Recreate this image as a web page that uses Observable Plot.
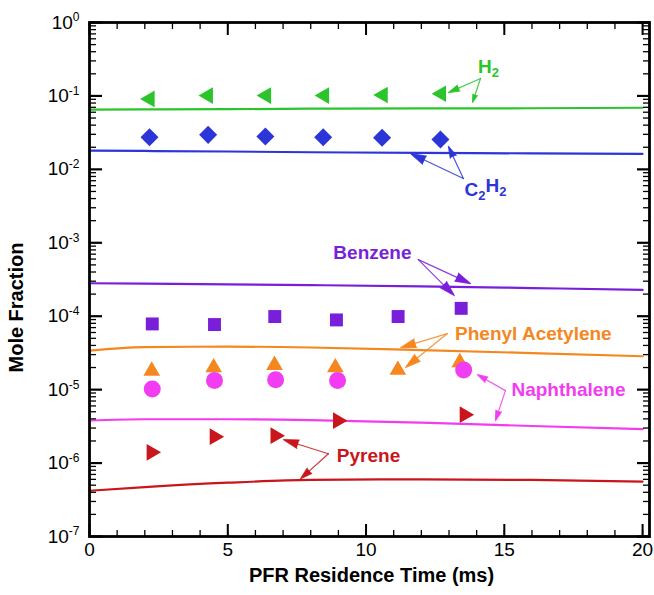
<!DOCTYPE html>
<html>
<head>
<meta charset="utf-8">
<script src="https://cdn.jsdelivr.net/npm/d3@7"></script>
<script src="https://cdn.jsdelivr.net/npm/@observablehq/plot@0.6"></script>
<style>
  body { margin: 0; background: #fff; }
  #chart { width: 654px; height: 595px; }
</style>
</head>
<body>
<div id="chart"></div>
<script>
// ---- Experimental data (symbols) ----
const h2Time   = [2.18, 4.29, 6.39, 8.49, 10.61, 12.72];
const h2Exp    = [0.091, 0.101, 0.101, 0.101, 0.103, 0.107];
const c2h2Time = [2.17, 4.29, 6.36, 8.45, 10.58, 12.69];
const c2h2Exp  = [0.0274, 0.0295, 0.028, 0.0274, 0.0269, 0.0255];
const benzTime = [2.27, 4.52, 6.70, 8.93, 11.16, 13.44];
const benzExp  = [7.85e-5, 7.7e-5, 9.9e-5, 8.9e-5, 9.9e-5, 1.28e-4];
const phacTime = [2.25, 4.49, 6.69, 8.89, 11.15, 13.39];
const phacExp  = [1.8e-5, 2.0e-5, 2.15e-5, 2.0e-5, 1.85e-5, 2.35e-5];
const naphTime = [2.27, 4.52, 6.73, 8.97, 13.53];
const naphExp  = [1.02e-5, 1.33e-5, 1.36e-5, 1.33e-5, 1.85e-5];
const pyrTime  = [2.24, 4.52, 6.72, 8.98, 13.56];
const pyrExp   = [1.40e-6, 2.29e-6, 2.36e-6, 3.78e-6, 4.56e-6];

// ---- Model predictions (lines) ----
const modelTime = [0, 2, 5, 8, 12, 16, 20];
const h2Model   = [0.065, 0.0655, 0.066, 0.067, 0.0675, 0.068, 0.069];
const c2h2Model = [0.0180, 0.0178, 0.0175, 0.0171, 0.0168, 0.0165, 0.0163];
const benzModel = [2.81e-4, 2.78e-4, 2.72e-4, 2.65e-4, 2.55e-4, 2.42e-4, 2.28e-4];
const phacModel = [3.4e-5, 3.8e-5, 3.85e-5, 3.75e-5, 3.45e-5, 3.15e-5, 2.85e-5];
const naphModel = [3.8e-6, 3.95e-6, 3.95e-6, 3.85e-6, 3.55e-6, 3.2e-6, 2.9e-6];
const pyrModel  = [4.2e-7, 4.7e-7, 5.4e-7, 5.9e-7, 6.0e-7, 5.9e-7, 5.6e-7];

// ---- Species, colours ----
const species = ["H2", "C2H2", "Benzene", "Phenyl Acetylene", "Naphthalene", "Pyrene"];
const colors  = ["#2bc52b", "#2b35d8", "#7a1fd9", "#f5871f", "#f23cf2", "#c8161c"];

// ---- Annotations (label text, positions in data units) ----
const annotText  = ["H_2", "C_2H_2", "Benzene", "Phenyl Acetylene", "Naphthalene", "Pyrene"];
const annotTime  = [14.43, 14.32, 10.23, 16.05, 17.32, 10.09];
const annotValue = [0.25, 0.0053, 7.35e-4, 5.8e-5, 1.0e-5, 1.26e-6];
const arrowSpecies   = [0, 0, 1, 1, 2, 2, 3, 3, 4, 4, 5, 5];
const arrowFromTime  = [14.14, 14.14, 13.52, 13.52, 11.89, 11.89, 12.94, 12.94, 15.04, 15.04, 8.64, 8.64];
const arrowFromValue = [0.173, 0.173, 0.0075, 0.0075, 5.9e-4, 5.9e-4, 5.8e-5, 5.8e-5, 9.7e-6, 9.7e-6, 1.34e-6, 1.34e-6];
const arrowToTime    = [12.98, 13.85, 11.61, 12.98, 13.78, 13.19, 11.25, 11.43, 14.03, 14.68, 7.02, 7.63];
const arrowToValue   = [0.111, 0.0813, 0.0164, 0.0205, 2.78e-4, 1.91e-4, 3.73e-5, 2.0e-5, 1.6e-5, 3.78e-6, 2.08e-6, 6.1e-7];

// ---- Axis ticks ----
const xMajor = [0, 5, 10, 15, 20];
const xMinor = d3.range(0, 21);
const yMajor = [1e-7, 1e-6, 1e-5, 1e-4, 1e-3, 1e-2, 1e-1, 1];
const yMinor = [];
for (let e = -7; e < 0; e++) for (let m = 2; m <= 9; m++) yMinor.push(m * Math.pow(10, e));

// ---- Build tables ----
const pts = (t, v) => t.map((d, i) => ({t: d, v: v[i]}));
const modelRows = [h2Model, c2h2Model, benzModel, phacModel, naphModel, pyrModel]
  .flatMap((vals, s) => vals.map((v, i) => ({t: modelTime[i], v, s})));
const annots = annotText.map((txt, i) => ({txt, t: annotTime[i], v: annotValue[i], c: colors[i]}));
const arrows = arrowSpecies.map((s, i) => ({
  t1: arrowFromTime[i], v1: arrowFromValue[i], t2: arrowToTime[i], v2: arrowToValue[i], c: colors[s]
}));

const font = "'Liberation Sans', Arial, Helvetica, sans-serif";

const chart = Plot.plot({
  width: 654,
  height: 595,
  marginLeft: 89,
  marginRight: 5,
  marginTop: 22,
  marginBottom: 59,
  style: {fontFamily: font, background: "#fff", color: "#000"},
  x: {domain: [0, 20.25]},
  y: {type: "log", domain: [1e-7, 1]},
  marks: [
    // model lines
    ...[0, 1, 2, 3, 4, 5].map(s => Plot.line(modelRows.filter(d => d.s === s), {
      x: "t", y: "v", stroke: colors[s], strokeWidth: 2.2, curve: "monotone-x"
    })),
    // experimental symbols
    Plot.dot(pts(h2Time, h2Exp), {x: "t", y: "v", symbol: "triangle", rotate: -90, r: 6.2, fill: colors[0]}),
    Plot.dot(pts(c2h2Time, c2h2Exp), {x: "t", y: "v", symbol: "square", rotate: 45, r: 7.2, fill: colors[1]}),
    Plot.dot(pts(benzTime, benzExp), {x: "t", y: "v", symbol: "square", r: 7.3, fill: colors[2]}),
    Plot.dot(pts(phacTime, phacExp), {x: "t", y: "v", symbol: "triangle", r: 6.2, fill: colors[3]}),
    Plot.dot(pts(naphTime, naphExp), {x: "t", y: "v", symbol: "circle", r: 8.5, fill: colors[4]}),
    Plot.dot(pts(pyrTime, pyrExp), {x: "t", y: "v", symbol: "triangle", rotate: 90, r: 6.2, fill: colors[5]}),
    // annotation arrows
    Plot.arrow(arrows, {
      x1: "t1", y1: "v1", x2: "t2", y2: "v2", stroke: "c", fill: "c",
      strokeWidth: 1.2, headLength: 20, headAngle: 32, strokeOpacity: 0.85
    }),
    // annotation labels
    Plot.text(annots, {
      x: "t", y: "v", text: "txt", fill: "c", fontSize: 19, fontWeight: "bold", className: "annot"
    }),
    // frame
    Plot.frame({stroke: "#000", strokeWidth: 2.8}),
    // ticks (inward)
    Plot.axisX({ticks: xMajor, tickSize: -12, strokeWidth: 2, fill: "none", label: null}),
    Plot.axisX({ticks: xMinor, tickSize: -6, strokeWidth: 1.3, fill: "none", label: null}),
    Plot.axisX({anchor: "top", ticks: xMajor, tickSize: -12, strokeWidth: 2, fill: "none", label: null}),
    Plot.axisX({anchor: "top", ticks: xMinor, tickSize: -6, strokeWidth: 1.3, fill: "none", label: null}),
    Plot.axisY({ticks: yMajor, tickSize: -13, strokeWidth: 2.2, fill: "none", label: null}),
    Plot.axisY({ticks: yMinor, tickSize: -7, strokeWidth: 1.3, fill: "none", label: null}),
    Plot.axisY({anchor: "right", ticks: yMajor, tickSize: -13, strokeWidth: 2.2, fill: "none", label: null}),
    Plot.axisY({anchor: "right", ticks: yMinor, tickSize: -7, strokeWidth: 1.3, fill: "none", label: null}),
    // tick labels
    Plot.axisX({ticks: xMajor, tickSize: 0, tickPadding: 6, fontSize: 19, label: null}),
    Plot.axisY({ticks: yMajor, tickSize: 0, tickPadding: 10, fontSize: 19, label: null,
      tickFormat: d => "10^" + Math.round(Math.log10(d))}),
    // axis titles
    Plot.text(["PFR Residence Time (ms)"], {text: d => d, frameAnchor: "bottom", dy: 45, dx: 2,
      fontSize: 20, fontWeight: "bold"}),
    Plot.text(["Mole Fraction"], {text: d => d, frameAnchor: "bottom-left", dx: -67, dy: -164,
      rotate: -90, textAnchor: "start", fontSize: 20, fontWeight: "bold"})
  ]
});

const NS = "http://www.w3.org/2000/svg";
// superscript exponents on y tick labels
chart.querySelectorAll('g[aria-label="y-axis tick label"] text').forEach(t => {
  const parts = t.textContent.split("^");
  if (parts.length < 2) return;
  t.textContent = parts[0];
  const ts = document.createElementNS(NS, "tspan");
  ts.setAttribute("dy", "-0.6em");
  ts.setAttribute("font-size", "12");
  ts.textContent = parts[1];
  t.appendChild(ts);
});
// subscripts in annotation labels (e.g. H_2)
chart.querySelectorAll('.annot text').forEach(t => {
  const s = t.textContent;
  if (!s.includes("_")) return;
  t.textContent = "";
  const tokens = s.split(/(_\d)/).filter(x => x.length);
  let shifted = false;
  tokens.forEach(tok => {
    const ts = document.createElementNS(NS, "tspan");
    if (tok.startsWith("_")) {
      ts.textContent = tok.slice(1);
      ts.setAttribute("font-size", "13");
      ts.setAttribute("dy", "0.35em");
      shifted = true;
    } else {
      ts.textContent = tok;
      if (shifted) { ts.setAttribute("dy", "-0.45em"); shifted = false; }
    }
    t.appendChild(ts);
  });
});

document.getElementById("chart").appendChild(chart);
</script>
</body>
</html>
